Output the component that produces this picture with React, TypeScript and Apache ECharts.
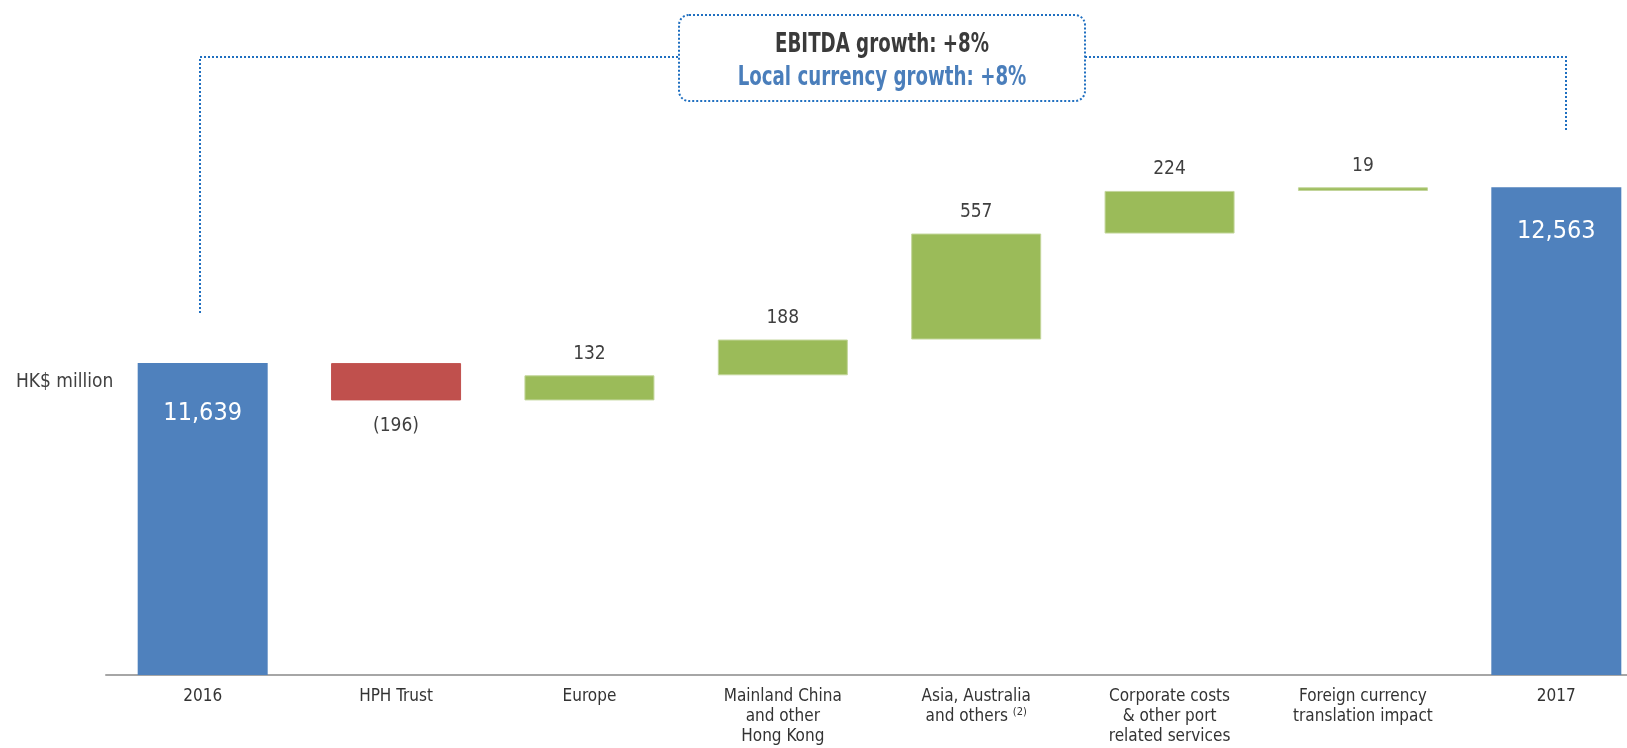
import React, { useEffect, useRef } from "react";
import * as echarts from "echarts";

const categories = [
  "2016",
  "HPH Trust",
  "Europe",
  "Mainland China\nand other\nHong Kong",
  "Asia, Australia\nand others {sup|(2)}",
  "Corporate costs\n& other port\nrelated services",
  "Foreign currency\ntranslation impact",
  "2017",
];
const startTotal = 11639;
const endTotal = 12563;
const deltas = [-196, 132, 188, 557, 224, 19];
const unitLabel = "HK$ million";
const growthTitle = "EBITDA growth: +8%";
const growthLocal = "Local currency growth: +8%";

const FONT = '"Liberation Sans Narrow", "DejaVu Sans Condensed", "Roboto Condensed", sans-serif';
const BLUE = "#4f81bd";
const RED = "#c0504d";
const GREEN = "#9bbb59";
const DOT = "#1f6fc0";

function fmt(v: number) {
  const s = Math.abs(v).toLocaleString("en-US");
  return v < 0 ? `(${s})` : s;
}

export default function App() {
  const ref = useRef<HTMLDivElement>(null);
  useEffect(() => {
    if (!ref.current) return;
    const chart = echarts.init(ref.current, undefined, { renderer: "svg" });

    const base: number[] = [];
    const vis: any[] = [];
    base.push(0);
    vis.push({
      value: startTotal,
      itemStyle: { color: BLUE },
      label: { show: true, position: "insideTop", distance: 36, color: "#fff", fontSize: 25, formatter: fmt(startTotal) },
    });
    let run = startTotal;
    deltas.forEach((d) => {
      const lo = d < 0 ? run + d : run;
      base.push(lo);
      vis.push({
        value: Math.abs(d),
        itemStyle: { color: d < 0 ? RED : GREEN, borderColor: d < 0 ? RED : "#c3d69b", borderWidth: 1 },
        label: {
          show: true,
          position: d < 0 ? "bottom" : "top",
          distance: 14,
          color: "#3f3f3f",
          fontSize: 19,
          formatter: fmt(d),
        },
      });
      run += d;
    });
    base.push(0);
    vis.push({
      value: endTotal,
      itemStyle: { color: BLUE },
      label: { show: true, position: "insideTop", distance: 30, color: "#fff", fontSize: 25, formatter: fmt(endTotal) },
    });

    chart.setOption({
      animation: false,
      textStyle: { fontFamily: FONT },
      grid: { left: 106, right: 7, top: 9, bottom: 73, containLabel: false },
      xAxis: {
        type: "category",
        data: categories,
        axisLine: { show: true, lineStyle: { color: "#a6a6a6", width: 2 } },
        axisTick: { show: false },
        axisLabel: {
          interval: 0,
          margin: 10,
          fontSize: 17,
          lineHeight: 20,
          color: "#333",
          fontFamily: FONT,
          rich: {
            sup: { fontSize: 11, color: "#333", fontFamily: FONT, padding: [0, 0, 7, 0] },
          },
        },
      },
      yAxis: {
        type: "value",
        min: 10000,
        max: 13500,
        show: false,
        splitLine: { show: false },
      },
      series: [
        {
          type: "bar",
          stack: "w",
          data: base,
          barWidth: 130,
          itemStyle: { color: "transparent" },
          silent: true,
        },
        {
          type: "bar",
          stack: "w",
          data: vis,
          barWidth: 130,
          label: { fontFamily: FONT },
        },
      ],
      graphic: [
        {
          type: "polyline",
          shape: { points: [[200, 313], [200, 57], [679, 57]] },
          style: { stroke: DOT, lineWidth: 2, lineDash: [2, 2], fill: null },
        },
        {
          type: "polyline",
          shape: { points: [[1085, 57], [1566, 57], [1566, 131]] },
          style: { stroke: DOT, lineWidth: 2, lineDash: [2, 2], fill: null },
        },
        {
          type: "rect",
          shape: { x: 679, y: 15, width: 406, height: 86, r: 10 },
          style: { stroke: DOT, lineWidth: 2, lineDash: [2, 2], fill: "#fff" },
        },
        {
          type: "text",
          x: 882,
          y: 43,
          scaleX: 0.75,
          style: {
            text: growthTitle,
            align: "center",
            verticalAlign: "middle",
            fontSize: 27,
            fontWeight: "bold",
            fontFamily: FONT,
            fill: "#3a3a3a",
          },
        },
        {
          type: "text",
          x: 882,
          y: 76,
          scaleX: 0.75,
          style: {
            text: growthLocal,
            align: "center",
            verticalAlign: "middle",
            fontSize: 27,
            fontWeight: "bold",
            fontFamily: FONT,
            fill: "#4a7ebb",
          },
        },
        {
          type: "text",
          x: 16,
          y: 380,
          style: {
            text: unitLabel,
            align: "left",
            verticalAlign: "middle",
            fontSize: 19,
            fontFamily: FONT,
            fill: "#404040",
          },
        },
      ],
    });
    return () => chart.dispose();
  }, []);
  return <div ref={ref} style={{ position: "fixed", left: 0, top: 0, width: 1660, height: 748 }} />;
}
